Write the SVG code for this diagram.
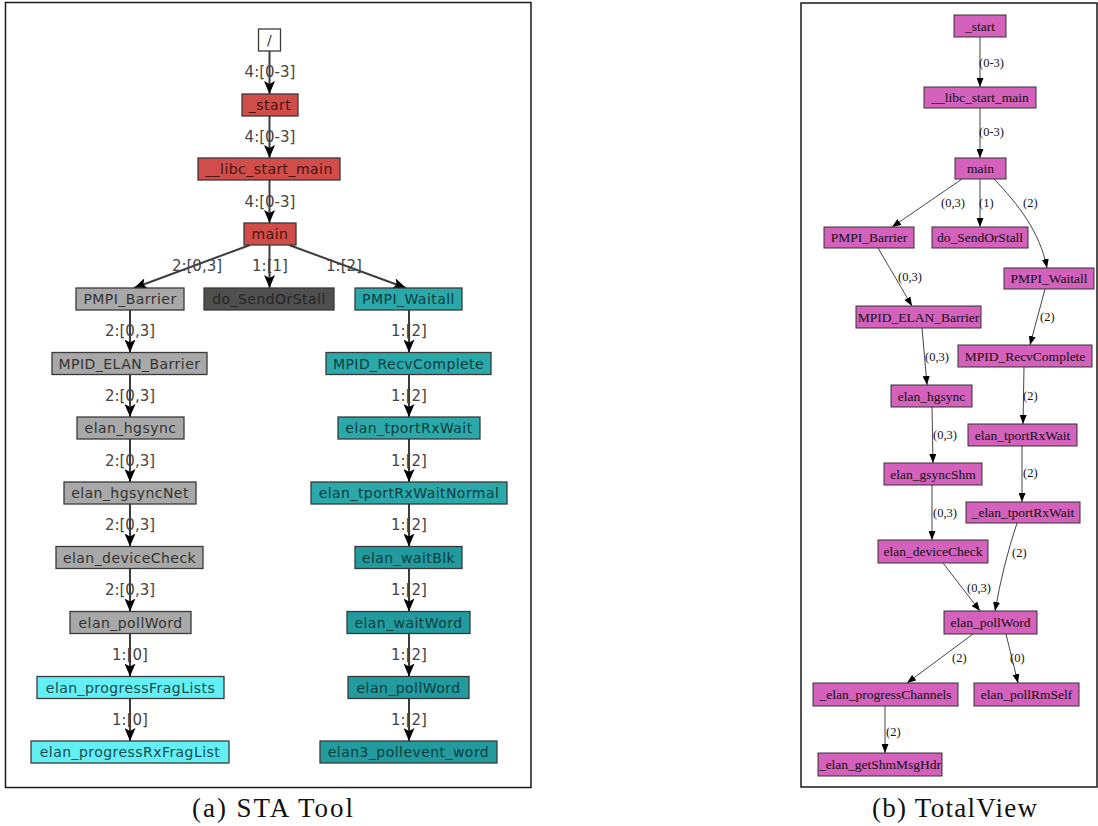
<svg xmlns="http://www.w3.org/2000/svg" width="1098" height="826" viewBox="0 0 1098 826">
<style>
  .frame{fill:#fff;stroke:#1a1a1a;stroke-width:1.5}
  .nL{stroke:#3a3a3a;stroke-width:1.3}
  .red{fill:#d04d4a}
  .gray{fill:#a8a8a8}
  .dark{fill:#4f4f4f}
  .teal{fill:#2ba8aa}
  .teal2{fill:#229b9e}
  .cyan{fill:#62f0f5}
  .white{fill:#fff}
  .tL{font-family:"DejaVu Sans",sans-serif;font-size:14px;letter-spacing:0.45px;text-anchor:middle}
  .tRed{fill:#4a1414}
  .tGray{fill:#333}
  .tDark{fill:#262626}
  .tTeal{fill:#0c3d3f}
  .tCyan{fill:#1c4a50}
  .eL{stroke:#3c3c3c;stroke-width:2;fill:none}
  .lL{font-family:"DejaVu Sans",sans-serif;font-size:15px;fill:#444;text-anchor:middle}
  .nR{fill:#d462bd;stroke:#333;stroke-width:1}
  .tR{font-family:"Liberation Serif",serif;font-size:13.5px;fill:#111;text-anchor:middle}
  .eR{stroke:#444;stroke-width:1;fill:none}
  .lR{font-family:"Liberation Serif",serif;font-size:12.5px;fill:#111}
  .cap{font-family:"Liberation Serif",serif;font-size:27px;fill:#111}
</style>
<defs>
  <marker id="aL" markerUnits="userSpaceOnUse" viewBox="0 0 13 11" refX="13" refY="5.5" markerWidth="13" markerHeight="11" orient="auto">
    <path d="M0,0 L13,5.5 L0,11 L3,5.5 z" fill="#000"/>
  </marker>
  <marker id="aR" markerUnits="userSpaceOnUse" viewBox="0 0 9 7" refX="9" refY="3.5" markerWidth="9" markerHeight="7" orient="auto">
    <path d="M0,0 L9,3.5 L0,7 z" fill="#000"/>
  </marker>
</defs>

<!-- Panel (a) -->
<rect class="frame" x="5.5" y="2.5" width="525.5" height="785"/>

<g id="connectors-a">
  <line class="eL" x1="269.5" y1="51" x2="269.5" y2="94" marker-end="url(#aL)"/>
  <line class="eL" x1="269.5" y1="116" x2="269.5" y2="158" marker-end="url(#aL)"/>
  <line class="eL" x1="269.5" y1="180" x2="269.5" y2="223" marker-end="url(#aL)"/>
  <line class="eL" x1="250" y1="245" x2="134" y2="288" marker-end="url(#aL)"/>
  <line class="eL" x1="269.5" y1="245" x2="269.5" y2="288" marker-end="url(#aL)"/>
  <line class="eL" x1="289" y1="245" x2="406" y2="288" marker-end="url(#aL)"/>
  <line class="eL" x1="130" y1="310" x2="130" y2="352.5" marker-end="url(#aL)"/>
  <line class="eL" x1="130" y1="374.5" x2="130" y2="417" marker-end="url(#aL)"/>
  <line class="eL" x1="130" y1="439" x2="130" y2="482" marker-end="url(#aL)"/>
  <line class="eL" x1="130" y1="504" x2="130" y2="546.5" marker-end="url(#aL)"/>
  <line class="eL" x1="130" y1="568.5" x2="130" y2="611.5" marker-end="url(#aL)"/>
  <line class="eL" x1="130" y1="633.5" x2="130" y2="676.5" marker-end="url(#aL)"/>
  <line class="eL" x1="130" y1="698.5" x2="130" y2="741" marker-end="url(#aL)"/>
  <line class="eL" x1="409" y1="310" x2="409" y2="352.5" marker-end="url(#aL)"/>
  <line class="eL" x1="409" y1="374.5" x2="409" y2="417" marker-end="url(#aL)"/>
  <line class="eL" x1="409" y1="439" x2="409" y2="482" marker-end="url(#aL)"/>
  <line class="eL" x1="409" y1="504" x2="409" y2="546.5" marker-end="url(#aL)"/>
  <line class="eL" x1="409" y1="568.5" x2="409" y2="611.5" marker-end="url(#aL)"/>
  <line class="eL" x1="409" y1="633.5" x2="409" y2="676.5" marker-end="url(#aL)"/>
  <line class="eL" x1="409" y1="698.5" x2="409" y2="741" marker-end="url(#aL)"/>
  <text class="lL" x="270" y="77">4:[0-3]</text>
  <text class="lL" x="270" y="142">4:[0-3]</text>
  <text class="lL" x="270" y="207">4:[0-3]</text>
  <text class="lL" x="197" y="271">2:[0,3]</text>
  <text class="lL" x="270" y="271">1:[1]</text>
  <text class="lL" x="344" y="271">1:[2]</text>
  <text class="lL" x="130" y="336">2:[0,3]</text>
  <text class="lL" x="130" y="401">2:[0,3]</text>
  <text class="lL" x="130" y="465.5">2:[0,3]</text>
  <text class="lL" x="130" y="530">2:[0,3]</text>
  <text class="lL" x="130" y="595">2:[0,3]</text>
  <text class="lL" x="130" y="660">1:[0]</text>
  <text class="lL" x="130" y="725">1:[0]</text>
  <text class="lL" x="409" y="336">1:[2]</text>
  <text class="lL" x="409" y="401">1:[2]</text>
  <text class="lL" x="409" y="465.5">1:[2]</text>
  <text class="lL" x="409" y="530">1:[2]</text>
  <text class="lL" x="409" y="595">1:[2]</text>
  <text class="lL" x="409" y="660">1:[2]</text>
  <text class="lL" x="409" y="725">1:[2]</text>
</g>

<g id="a-root"><rect class="nL white" x="258.5" y="29" width="22" height="22"/><text class="tL tGray" x="269.5" y="45">/</text></g>
<g id="a-start"><rect class="nL red" x="242" y="94" width="56" height="22"/><text class="tL tRed" x="270" y="110">_start</text></g>
<g id="a-libc"><rect class="nL red" x="198" y="158" width="142" height="22"/><text class="tL tRed" x="269" y="174">__libc_start_main</text></g>
<g id="a-main"><rect class="nL red" x="244" y="223" width="52" height="22"/><text class="tL tRed" x="270" y="239">main</text></g>

<g id="a-pmpi-barrier"><rect class="nL gray" x="76" y="288" width="108" height="22"/><text class="tL tGray" x="130" y="304">PMPI_Barrier</text></g>
<g id="a-do-sendorstall"><rect class="nL dark" x="204" y="288" width="130" height="22"/><text class="tL tDark" x="269" y="304">do_SendOrStall</text></g>
<g id="a-pmpi-waitall"><rect class="nL teal" x="355" y="288" width="107" height="22"/><text class="tL tTeal" x="408.5" y="304">PMPI_Waitall</text></g>

<g id="a-mpid-elan-barrier"><rect class="nL gray" x="52" y="352.5" width="155" height="22"/><text class="tL tGray" x="129.5" y="368.5">MPID_ELAN_Barrier</text></g>
<g id="a-elan-hgsync"><rect class="nL gray" x="77" y="417" width="107" height="22"/><text class="tL tGray" x="130.5" y="433">elan_hgsync</text></g>
<g id="a-elan-hgsyncnet"><rect class="nL gray" x="64" y="482" width="132" height="22"/><text class="tL tGray" x="130" y="498">elan_hgsyncNet</text></g>
<g id="a-elan-devicecheck"><rect class="nL gray" x="56" y="546.5" width="147" height="22"/><text class="tL tGray" x="129.5" y="562.5">elan_deviceCheck</text></g>
<g id="a-elan-pollword-l"><rect class="nL gray" x="70" y="611.5" width="121" height="22"/><text class="tL tGray" x="130.5" y="627.5">elan_pollWord</text></g>
<g id="a-elan-progressfraglists"><rect class="nL cyan" x="37" y="676.5" width="187" height="22"/><text class="tL tCyan" x="130.5" y="692.5">elan_progressFragLists</text></g>
<g id="a-elan-progressrxfraglist"><rect class="nL cyan" x="31" y="741" width="198" height="22"/><text class="tL tCyan" x="130" y="757">elan_progressRxFragList</text></g>

<g id="a-mpid-recvcomplete"><rect class="nL teal" x="326" y="352.5" width="165" height="22"/><text class="tL tTeal" x="408.5" y="368.5">MPID_RecvComplete</text></g>
<g id="a-elan-tportrxwait"><rect class="nL teal" x="338" y="417" width="142" height="22"/><text class="tL tTeal" x="409" y="433">elan_tportRxWait</text></g>
<g id="a-elan-tportrxwaitnormal"><rect class="nL teal" x="311" y="482" width="196" height="22"/><text class="tL tTeal" x="409" y="498">elan_tportRxWaitNormal</text></g>
<g id="a-elan-waitblk"><rect class="nL teal2" x="355" y="546.5" width="107" height="22"/><text class="tL tTeal" x="408.5" y="562.5">elan_waitBlk</text></g>
<g id="a-elan-waitword"><rect class="nL teal2" x="347" y="611.5" width="123" height="22"/><text class="tL tTeal" x="408.5" y="627.5">elan_waitWord</text></g>
<g id="a-elan-pollword-r"><rect class="nL teal2" x="348" y="676.5" width="121" height="22"/><text class="tL tTeal" x="408.5" y="692.5">elan_pollWord</text></g>
<g id="a-elan3-pollevent-word"><rect class="nL teal2" x="320" y="741" width="177" height="22"/><text class="tL tTeal" x="408.5" y="757">elan3_pollevent_word</text></g>

<text class="cap" x="192" y="817" textLength="161" lengthAdjust="spacing">(a) STA Tool</text>

<!-- Panel (b) -->
<rect class="frame" x="801" y="3" width="296" height="784"/>

<g id="connectors-b">
  <line class="eR" x1="980" y1="37" x2="980" y2="87" marker-end="url(#aR)"/>
  <line class="eR" x1="980" y1="108" x2="980" y2="158" marker-end="url(#aR)"/>
  <line class="eR" x1="962" y1="179" x2="892" y2="227" marker-end="url(#aR)"/>
  <line class="eR" x1="980" y1="179" x2="980" y2="227" marker-end="url(#aR)"/>
  <path class="eR" d="M994,179 C1018,204 1040,232 1047,268" marker-end="url(#aR)"/>
  <line class="eR" x1="878" y1="248" x2="912" y2="306" marker-end="url(#aR)"/>
  <line class="eR" x1="1045" y1="289" x2="1030" y2="345" marker-end="url(#aR)"/>
  <line class="eR" x1="922" y1="328" x2="927" y2="385" marker-end="url(#aR)"/>
  <line class="eR" x1="1024" y1="367" x2="1023" y2="424" marker-end="url(#aR)"/>
  <line class="eR" x1="932" y1="407" x2="933" y2="463" marker-end="url(#aR)"/>
  <line class="eR" x1="1022" y1="446" x2="1022" y2="502" marker-end="url(#aR)"/>
  <line class="eR" x1="932" y1="485" x2="932" y2="540" marker-end="url(#aR)"/>
  <path class="eR" d="M1017,523 Q1003,565 995,611" marker-end="url(#aR)"/>
  <line class="eR" x1="943" y1="563" x2="980" y2="611" marker-end="url(#aR)"/>
  <line class="eR" x1="973" y1="634" x2="907" y2="683" marker-end="url(#aR)"/>
  <line class="eR" x1="1006" y1="634" x2="1018" y2="683" marker-end="url(#aR)"/>
  <line class="eR" x1="885" y1="706" x2="885" y2="753" marker-end="url(#aR)"/>
  <text class="lR" x="979" y="67">(0-3)</text>
  <text class="lR" x="979" y="136">(0-3)</text>
  <text class="lR" x="941" y="207">(0,3)</text>
  <text class="lR" x="979" y="207">(1)</text>
  <text class="lR" x="1023" y="207">(2)</text>
  <text class="lR" x="898" y="281">(0,3)</text>
  <text class="lR" x="1040" y="321">(2)</text>
  <text class="lR" x="925" y="361">(0,3)</text>
  <text class="lR" x="1023" y="400">(2)</text>
  <text class="lR" x="933" y="439">(0,3)</text>
  <text class="lR" x="1023" y="477">(2)</text>
  <text class="lR" x="933" y="517">(0,3)</text>
  <text class="lR" x="1012" y="557">(2)</text>
  <text class="lR" x="967" y="592">(0,3)</text>
  <text class="lR" x="952" y="662">(2)</text>
  <text class="lR" x="1010" y="662">(0)</text>
  <text class="lR" x="886" y="736">(2)</text>
</g>

<g id="b-start"><rect class="nR" x="954" y="15" width="52" height="22"/><text class="tR" x="980" y="30.5">_start</text></g>
<g id="b-libc"><rect class="nR" x="924" y="87" width="112" height="21"/><text class="tR" x="980" y="102">__libc_start_main</text></g>
<g id="b-main"><rect class="nR" x="955" y="158" width="51" height="21"/><text class="tR" x="980.5" y="173">main</text></g>
<g id="b-pmpi-barrier"><rect class="nR" x="824" y="227" width="90" height="21"/><text class="tR" x="869" y="242">PMPI_Barrier</text></g>
<g id="b-do-sendorstall"><rect class="nR" x="932" y="227" width="96" height="21"/><text class="tR" x="980" y="242">do_SendOrStall</text></g>
<g id="b-pmpi-waitall"><rect class="nR" x="1004" y="268" width="90" height="21"/><text class="tR" x="1049" y="283">PMPI_Waitall</text></g>
<g id="b-mpid-elan-barrier"><rect class="nR" x="856" y="306" width="125" height="22"/><text class="tR" x="918.5" y="321.5">MPID_ELAN_Barrier</text></g>
<g id="b-mpid-recvcomplete"><rect class="nR" x="958" y="345" width="134" height="22"/><text class="tR" x="1025" y="360.5">MPID_RecvComplete</text></g>
<g id="b-elan-hgsync"><rect class="nR" x="891" y="385" width="81" height="22"/><text class="tR" x="931.5" y="400.5">elan_hgsync</text></g>
<g id="b-elan-tportrxwait"><rect class="nR" x="968" y="424" width="109" height="22"/><text class="tR" x="1022.5" y="439.5">elan_tportRxWait</text></g>
<g id="b-elan-gsyncshm"><rect class="nR" x="884" y="463" width="98" height="22"/><text class="tR" x="933" y="478.5">elan_gsyncShm</text></g>
<g id="b-elan-tportrxwait2"><rect class="nR" x="966" y="502" width="114" height="21"/><text class="tR" x="1023" y="517">_elan_tportRxWait</text></g>
<g id="b-elan-devicecheck"><rect class="nR" x="878" y="540" width="110" height="23"/><text class="tR" x="933" y="556">elan_deviceCheck</text></g>
<g id="b-elan-pollword"><rect class="nR" x="944" y="611" width="93" height="23"/><text class="tR" x="990.5" y="627">elan_pollWord</text></g>
<g id="b-elan-progresschannels"><rect class="nR" x="813" y="683" width="145" height="23"/><text class="tR" x="885.5" y="699">_elan_progressChannels</text></g>
<g id="b-elan-pollrmself"><rect class="nR" x="974" y="683" width="105" height="23"/><text class="tR" x="1026.5" y="699">elan_pollRmSelf</text></g>
<g id="b-elan-getshmmsghdr"><rect class="nR" x="818" y="753" width="124" height="23"/><text class="tR" x="880" y="769">_elan_getShmMsgHdr</text></g>

<text class="cap" x="872" y="817" textLength="165" lengthAdjust="spacing">(b) TotalView</text>
</svg>
